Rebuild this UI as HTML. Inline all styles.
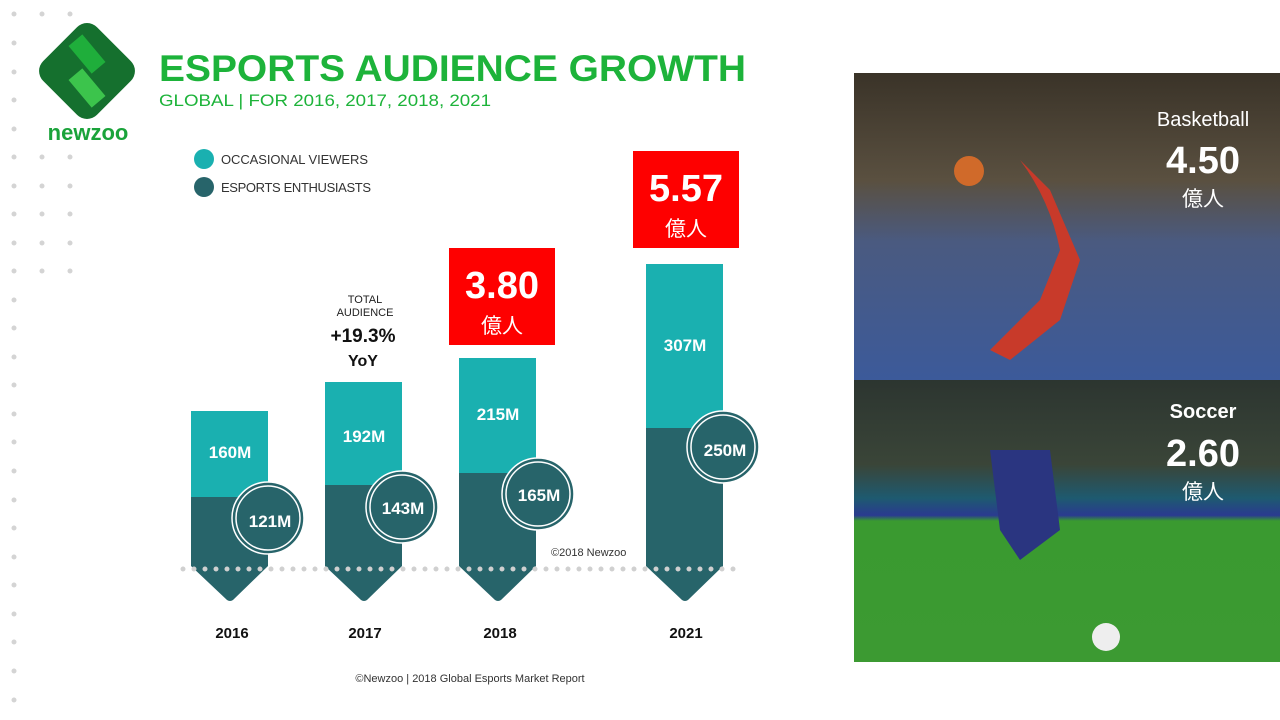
<!DOCTYPE html>
<html><head><meta charset="utf-8"><style>
body{margin:0;width:1280px;height:720px;overflow:hidden;background:#fff;font-family:"Liberation Sans","Noto Sans CJK JP",sans-serif;}
</style></head><body>
<svg width="1280" height="720" viewBox="0 0 1280 720" xmlns="http://www.w3.org/2000/svg" style="position:absolute;left:0;top:0">
<defs>
<linearGradient id="bb" x1="0" y1="0" x2="0" y2="1">
<stop offset="0" stop-color="#3a3328"/><stop offset="0.35" stop-color="#5a5040"/><stop offset="0.55" stop-color="#4a5a80"/><stop offset="1" stop-color="#3c5a9a"/></linearGradient>
<linearGradient id="sc" x1="0" y1="0" x2="0" y2="1">
<stop offset="0" stop-color="#2c3530"/><stop offset="0.3" stop-color="#3a4538"/><stop offset="0.42" stop-color="#1e5a70"/><stop offset="0.48" stop-color="#2a3a90"/><stop offset="0.5" stop-color="#3a9a30"/><stop offset="1" stop-color="#3c9a32"/></linearGradient>
</defs>
<g fill="#d4d4d4">
<circle cx="14" cy="14" r="2.5"/><circle cx="42" cy="14" r="2.5"/><circle cx="70" cy="14" r="2.5"/>
<circle cx="14" cy="43" r="2.5"/><circle cx="14" cy="72" r="2.5"/><circle cx="14" cy="100" r="2.5"/><circle cx="14" cy="129" r="2.5"/>
<circle cx="14" cy="157" r="2.5"/><circle cx="42" cy="157" r="2.5"/><circle cx="70" cy="157" r="2.5"/>
<circle cx="14" cy="186" r="2.5"/><circle cx="42" cy="186" r="2.5"/><circle cx="70" cy="186" r="2.5"/>
<circle cx="14" cy="214" r="2.5"/><circle cx="42" cy="214" r="2.5"/><circle cx="70" cy="214" r="2.5"/>
<circle cx="14" cy="243" r="2.5"/><circle cx="42" cy="243" r="2.5"/><circle cx="70" cy="243" r="2.5"/>
<circle cx="14" cy="271" r="2.5"/><circle cx="42" cy="271" r="2.5"/><circle cx="70" cy="271" r="2.5"/>
<circle cx="14" cy="300" r="2.5"/><circle cx="14" cy="328" r="2.5"/><circle cx="14" cy="357" r="2.5"/><circle cx="14" cy="385" r="2.5"/>
<circle cx="14" cy="414" r="2.5"/><circle cx="14" cy="442" r="2.5"/><circle cx="14" cy="471" r="2.5"/><circle cx="14" cy="500" r="2.5"/>
<circle cx="14" cy="528" r="2.5"/><circle cx="14" cy="557" r="2.5"/><circle cx="14" cy="585" r="2.5"/><circle cx="14" cy="614" r="2.5"/>
<circle cx="14" cy="642" r="2.5"/><circle cx="14" cy="671" r="2.5"/><circle cx="14" cy="700" r="2.5"/>
</g>
<rect x="49" y="33" width="76" height="76" rx="14" fill="#15702e" transform="rotate(45 87 71)"/>
<path d="M78 36 L96 36 L96 72 L78 72 Z" fill="#1fae3b" transform="rotate(-40 87 54)"/>
<path d="M78 70 L96 70 L96 106 L78 106 Z" fill="#3cc44c" transform="rotate(-40 87 88)"/>
<text x="88" y="140" font-size="22" font-weight="bold" fill="#1aa33a" text-anchor="middle">newzoo</text>
<text x="159" y="81" font-size="37" font-weight="bold" fill="#1db33a" textLength="587" lengthAdjust="spacingAndGlyphs">ESPORTS AUDIENCE GROWTH</text>
<text x="159" y="106" font-size="17" fill="#1db33a" textLength="332" lengthAdjust="spacingAndGlyphs">GLOBAL | FOR 2016, 2017, 2018, 2021</text>
<circle cx="204" cy="159" r="10" fill="#1ab0b0"/><text x="221" y="164" font-size="13" fill="#333" textLength="147">OCCASIONAL VIEWERS</text>
<circle cx="204" cy="187" r="10" fill="#27646a"/><text x="221" y="192" font-size="13" fill="#333" textLength="150">ESPORTS ENTHUSIASTS</text>
<g>
<rect x="191" y="411" width="77" height="86" fill="#1ab0b0"/>
<path d="M191 497 H268 V566 L233 600 Q230 602 227 600 L191 566 Z" fill="#27646a"/>
<rect x="325" y="382" width="77" height="103" fill="#1ab0b0"/>
<path d="M325 485 H402 V566 L367 600 Q364 602 361 600 L325 566 Z" fill="#27646a"/>
<rect x="459" y="358" width="77" height="115" fill="#1ab0b0"/>
<path d="M459 473 H536 V566 L501 600 Q498 602 495 600 L459 566 Z" fill="#27646a"/>
<rect x="646" y="264" width="77" height="164" fill="#1ab0b0"/>
<path d="M646 428 H723 V566 L688 600 Q685 602 682 600 L646 566 Z" fill="#27646a"/>
</g>
<line x1="183" y1="569" x2="742" y2="569" stroke="#d0d0d0" stroke-width="5" stroke-linecap="round" stroke-dasharray="0 11"/>
<g font-weight="bold" fill="#fff" font-size="17" text-anchor="middle">
<text x="230" y="458">160M</text><text x="364" y="442">192M</text><text x="498" y="420">215M</text><text x="685" y="351">307M</text>
</g>
<g fill="#27646a" stroke="#fff" stroke-width="1.5">
<circle cx="268" cy="518" r="36"/><circle cx="268" cy="518" r="32"/>
<circle cx="402" cy="507" r="36"/><circle cx="402" cy="507" r="32"/>
<circle cx="538" cy="494" r="36"/><circle cx="538" cy="494" r="32"/>
<circle cx="723" cy="447" r="36"/><circle cx="723" cy="447" r="32"/>
</g>
<g font-weight="bold" fill="#fff" font-size="17" text-anchor="middle">
<text x="270" y="527">121M</text><text x="403" y="514">143M</text><text x="539" y="501">165M</text><text x="725" y="456">250M</text>
</g>
<g font-weight="bold" fill="#111" font-size="15" text-anchor="middle">
<text x="232" y="638">2016</text><text x="365" y="638">2017</text><text x="500" y="638">2018</text><text x="686" y="638">2021</text>
</g>
<text x="365" y="303" font-size="11" fill="#222" text-anchor="middle">TOTAL</text>
<text x="365" y="316" font-size="11" fill="#222" text-anchor="middle">AUDIENCE</text>
<text x="363" y="342" font-size="19" font-weight="bold" fill="#111" text-anchor="middle">+19.3%</text>
<text x="363" y="366" font-size="16" font-weight="bold" fill="#111" text-anchor="middle">YoY</text>
<text x="551" y="556" font-size="11" fill="#333">©2018 Newzoo</text>
<text x="470" y="682" font-size="11" fill="#333" text-anchor="middle">©Newzoo | 2018 Global Esports Market Report</text>
<rect x="449" y="248" width="106" height="97" fill="#fe0000"/>
<text x="502" y="298" font-size="38" font-weight="bold" fill="#fff" text-anchor="middle">3.80</text>
<text x="502" y="333" font-size="21" fill="#fff" text-anchor="middle">億人</text>
<rect x="633" y="151" width="106" height="97" fill="#fe0000"/>
<text x="686" y="201" font-size="38" font-weight="bold" fill="#fff" text-anchor="middle">5.57</text>
<text x="686" y="236" font-size="21" fill="#fff" text-anchor="middle">億人</text>
<rect x="854" y="73" width="426" height="307" fill="url(#bb)"/>
<path d="M1020 160 Q1050 200 1060 250 L1040 300 L990 350 L1010 360 L1060 320 L1080 260 L1050 190 Z" fill="#c83a2a"/>
<circle cx="969" cy="171" r="15" fill="#d06a2a"/>
<rect x="854" y="380" width="426" height="282" fill="url(#sc)"/>
<path d="M990 450 L1050 450 L1060 530 L1020 560 L1000 530 Z" fill="#2a3580"/>
<circle cx="1106" cy="637" r="14" fill="#eee"/>
<g fill="#fff" text-anchor="middle">
<text x="1203" y="126" font-size="20">Basketball</text>
<text x="1203" y="173" font-size="38" font-weight="bold">4.50</text>
<text x="1203" y="206" font-size="21">億人</text>
<text x="1203" y="418" font-size="20" font-weight="bold">Soccer</text>
<text x="1203" y="466" font-size="38" font-weight="bold">2.60</text>
<text x="1203" y="499" font-size="21">億人</text>
</g>
</svg>
</body></html>
